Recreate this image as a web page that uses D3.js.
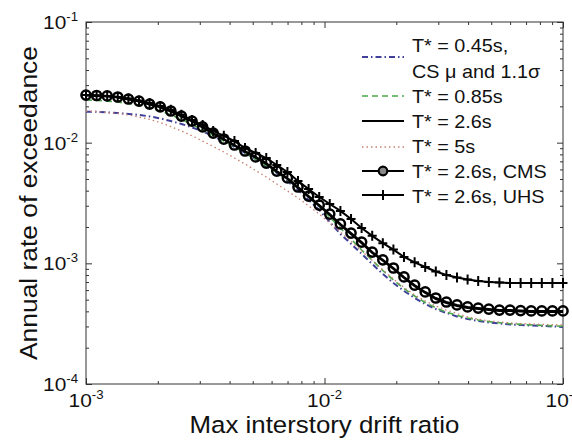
<!DOCTYPE html>
<html><head><meta charset="utf-8">
<script src="https://cdn.jsdelivr.net/npm/d3@7"></script>
<style>body{margin:0;background:#fff}text{font-family:"Liberation Sans",Arial,sans-serif;fill:#111}</style>
</head><body>
<svg id="c" width="572" height="447"></svg>
<script>
const drift = [0.001, 0.001108, 0.001227, 0.001359, 0.001506, 0.001668, 0.001848, 0.002048, 0.002268, 0.002512,
  0.002783, 0.003083, 0.003415, 0.003783, 0.004192, 0.004642, 0.005144, 0.005698, 0.006310, 0.006990,
  0.007743, 0.008577, 0.009502, 0.01052, 0.01166, 0.01292, 0.01431, 0.01585, 0.01756, 0.01945,
  0.02154, 0.02387, 0.02644, 0.02929, 0.03245, 0.03594, 0.03981, 0.04410, 0.04886, 0.05412,
  0.05995, 0.06642, 0.07356, 0.08150, 0.09028, 0.1];
const rate045 = [0.0180, 0.0180, 0.0178, 0.0176, 0.0173, 0.0170, 0.0165, 0.0159, 0.0151, 0.0143,
  0.0134, 0.0124, 0.0113, 0.0102, 0.00921, 0.00821, 0.00732, 0.00641, 0.00561, 0.00481,
  0.00405, 0.00335, 0.00277, 0.00220, 0.00175, 0.00145, 0.00120, 0.000987, 0.000816, 0.000687,
  0.000590, 0.000516, 0.000460, 0.000418, 0.000388, 0.000363, 0.000346, 0.000333, 0.000324, 0.000317,
  0.000311, 0.000308, 0.000305, 0.000303, 0.000300, 0.000297];
const rate085 = [0.0226, 0.0224, 0.0221, 0.0217, 0.0211, 0.0203, 0.0194, 0.0183, 0.0170, 0.0156,
  0.0142, 0.0127, 0.0115, 0.0103, 0.00921, 0.00821, 0.00732, 0.00647, 0.00566, 0.00491,
  0.00421, 0.00355, 0.00296, 0.00242, 0.00196, 0.00159, 0.00129, 0.00106, 0.000872, 0.000728,
  0.000619, 0.000536, 0.000474, 0.000428, 0.000394, 0.000370, 0.000352, 0.000339, 0.000329, 0.000322,
  0.000316, 0.000312, 0.000309, 0.000306, 0.000303, 0.000301];
const rate26 = [0.0246, 0.0244, 0.0241, 0.0237, 0.0228, 0.0219, 0.0207, 0.0196, 0.0181, 0.0165,
  0.0150, 0.0133, 0.0119, 0.0106, 0.00946, 0.00844, 0.00753, 0.00665, 0.00571, 0.00500,
  0.00420, 0.00354, 0.00298, 0.00251, 0.00208, 0.00174, 0.00147, 0.00122, 0.00105, 0.000897,
  0.000756, 0.000648, 0.000568, 0.000506, 0.000469, 0.000443, 0.000426, 0.000418, 0.000410, 0.000403,
  0.000403, 0.000399, 0.000395, 0.000395, 0.000395, 0.000395];
const rate5 = [0.0183, 0.0181, 0.0178, 0.0175, 0.0170, 0.0163, 0.0156, 0.0147, 0.0136, 0.0125,
  0.0114, 0.0103, 0.00930, 0.00837, 0.00746, 0.00666, 0.00588, 0.00519, 0.00454, 0.00398,
  0.00348, 0.00299, 0.00256, 0.00216, 0.00182, 0.00152, 0.00127, 0.00106, 0.000881, 0.000742,
  0.000631, 0.000547, 0.000488, 0.000443, 0.000410, 0.000384, 0.000360, 0.000345, 0.000334, 0.000326,
  0.000321, 0.000317, 0.000314, 0.000312, 0.000310, 0.000309];
const rateCMS = [0.0248, 0.0246, 0.0244, 0.0239, 0.0230, 0.0221, 0.0209, 0.0198, 0.0183, 0.0166,
  0.0151, 0.0135, 0.0120, 0.0107, 0.00956, 0.00853, 0.00761, 0.00678, 0.00582, 0.00510,
  0.00429, 0.00361, 0.00304, 0.00256, 0.00212, 0.00178, 0.00150, 0.00124, 0.00107, 0.000915,
  0.000771, 0.000661, 0.000579, 0.000516, 0.000478, 0.000452, 0.000435, 0.000426, 0.000418, 0.000410,
  0.000410, 0.000406, 0.000403, 0.000403, 0.000403, 0.000403];
const rateUHS = [0.0248, 0.0246, 0.0244, 0.0239, 0.0232, 0.0224, 0.0213, 0.0201, 0.0187, 0.0170,
  0.0154, 0.0140, 0.0125, 0.0114, 0.0103, 0.00903, 0.00821, 0.00746, 0.00653, 0.00571,
  0.00481, 0.00413, 0.00355, 0.00310, 0.00272, 0.00233, 0.00196, 0.00169, 0.00147, 0.00130,
  0.00113, 0.00102, 0.000933, 0.000856, 0.000801, 0.000763, 0.000735, 0.000714, 0.000700, 0.000694,
  0.000687, 0.000687, 0.000687, 0.000687, 0.000687, 0.000687];

const xTicks = [1e-3, 1e-2, 1e-1];
const xTickExp = ["-3", "-2", "-1"];
const yTicks = [1e-4, 1e-3, 1e-2, 1e-1];
const yTickExp = ["-4", "-3", "-2", "-1"];
const xLabel = "Max interstory drift ratio";
const yLabel = "Annual rate of exceedance";
const legendLabels = [["T* = 0.45s,", "CS \u03bc and 1.1\u03c3"], ["T* = 0.85s"], ["T* = 2.6s"], ["T* = 5s"], ["T* = 2.6s, CMS"], ["T* = 2.6s, UHS"]];

const seriesList = [
  {v: rate045, color: "#40409a", w: 2, dash: "6,3,1.5,3", marker: null},
  {v: rate085, color: "#4aa84a", w: 1.6, dash: "6,4", marker: null},
  {v: rate26, color: "#000", w: 2, dash: null, marker: null},
  {v: rate5, color: "#c98070", w: 1.3, dash: "1.5,3", marker: null},
  {v: rateCMS, color: "#000", w: 2, dash: null, marker: "circle"},
  {v: rateUHS, color: "#000", w: 2, dash: null, marker: "plus"}
];

const svg = d3.select("#c");
const m = {l: 86, r: 563, t: 22, b: 384};
const x = d3.scaleLog().domain([1e-3, 1e-1]).range([m.l, m.r]);
const y = d3.scaleLog().domain([1e-4, 1e-1]).range([m.b, m.t]);
const SX = 1.1;

const minorX = [], minorY = [];
[1e-3, 1e-2].forEach(d => { for (let k = 2; k <= 9; k++) minorX.push(d * k); });
[1e-4, 1e-3, 1e-2].forEach(d => { for (let k = 2; k <= 9; k++) minorY.push(d * k); });

function axisGroup(axis, tr) {
  const g = svg.append("g").attr("transform", tr).call(axis);
  g.select(".domain").remove();
  g.selectAll("line").attr("stroke", "#333").attr("stroke-width", 1);
  g.selectAll("text").remove();
}
const defs = [
  [d3.axisBottom, x, `translate(0,${m.b})`, xTicks, minorX],
  [d3.axisTop, x, `translate(0,${m.t})`, xTicks, minorX],
  [d3.axisLeft, y, `translate(${m.l},0)`, yTicks, minorY],
  [d3.axisRight, y, `translate(${m.r},0)`, yTicks, minorY]
];
defs.forEach(([ax, sc, tr, maj, mi]) => {
  axisGroup(ax(sc).tickValues(maj).tickSize(-6).tickFormat(""), tr);
  axisGroup(ax(sc).tickValues(mi).tickSize(-3).tickFormat(""), tr);
});

svg.append("rect").attr("x", m.l).attr("y", m.t).attr("width", m.r - m.l).attr("height", m.b - m.t)
  .attr("fill", "none").attr("stroke", "#333").attr("stroke-width", 1);

xTicks.forEach((t, i) => {
  const tx = svg.append("text").attr("transform", `translate(${x(t)},407) scale(${SX},1)`)
    .attr("text-anchor", "middle").attr("font-size", 19);
  tx.append("tspan").text("10");
  tx.append("tspan").attr("dy", -8).attr("font-size", 12).text(xTickExp[i]);
});
yTicks.forEach((t, i) => {
  const tx = svg.append("text").attr("transform", `translate(78,${y(t) + 7}) scale(${SX},1)`)
    .attr("text-anchor", "end").attr("font-size", 19);
  tx.append("tspan").text("10");
  tx.append("tspan").attr("dy", -8).attr("font-size", 12).text(yTickExp[i]);
});

svg.append("text").attr("transform", `translate(${(m.l + m.r) / 2},433) scale(${SX},1)`)
  .attr("text-anchor", "middle").attr("font-size", 23.5).text(xLabel);
svg.append("text").attr("transform", `translate(37,${(m.t + m.b) / 2}) rotate(-90) scale(${SX},1)`)
  .attr("text-anchor", "middle").attr("font-size", 24).text(yLabel);

const line = d3.line().x(d => x(d[0])).y(d => y(d[1]));
const plot = svg.append("g");
seriesList.forEach(s => {
  const pts = drift.map((d, i) => [d, s.v[i]]);
  plot.append("path").attr("d", line(pts)).attr("fill", "none")
    .attr("stroke", s.color).attr("stroke-width", s.w)
    .attr("stroke-dasharray", s.dash);
  if (s.marker === "circle") {
    plot.selectAll(null).data(pts).enter().append("circle")
      .attr("cx", d => x(d[0])).attr("cy", d => y(d[1])).attr("r", 4.6)
      .attr("fill", "none").attr("stroke", s.color).attr("stroke-width", 2.5);
  } else if (s.marker === "plus") {
    plot.selectAll(null).data(pts).enter().append("path")
      .attr("d", d => `M${x(d[0]) - 4.5},${y(d[1])}h9M${x(d[0])},${y(d[1]) - 5}v10`)
      .attr("stroke", s.color).attr("stroke-width", 2);
  }
});

const lg = svg.append("g");
const rowY = [[45, 71], [96], [121], [146], [171], [196]];
const sampleY = [57, 96, 121, 147, 171, 195];
seriesList.forEach((s, i) => {
  const sy = sampleY[i];
  lg.append("line").attr("x1", 362).attr("x2", 404).attr("y1", sy).attr("y2", sy)
    .attr("stroke", s.color).attr("stroke-width", s.w).attr("stroke-dasharray", s.dash);
  if (s.marker === "circle") {
    lg.append("circle").attr("cx", 383).attr("cy", sy).attr("r", 4.3)
      .attr("fill", "#888").attr("stroke", "#000").attr("stroke-width", 2.2);
  } else if (s.marker === "plus") {
    lg.append("path").attr("d", `M378.5,${sy}h9M383,${sy - 5}v10`).attr("stroke", "#000").attr("stroke-width", 2);
  }
  legendLabels[i].forEach((t, j) => {
    lg.append("text").attr("transform", `translate(412,${rowY[i][j] + 6.5}) scale(${SX},1)`)
      .attr("font-size", 18).text(t);
  });
});
</script>
</body></html>
